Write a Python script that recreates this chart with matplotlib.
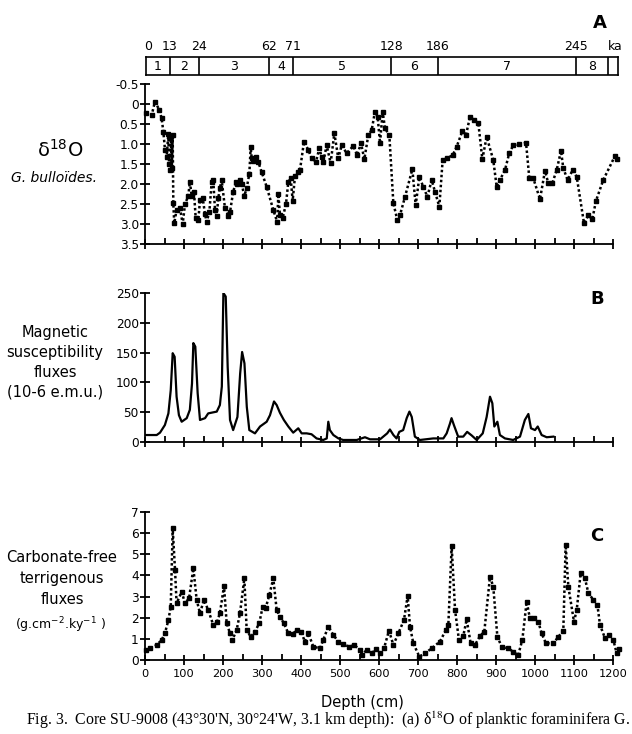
import matplotlib
matplotlib.use("Agg")
import matplotlib.pyplot as plt
from matplotlib.ticker import MultipleLocator, FixedLocator

# ---- data ----
# panel A: d18O G. bulloides (depth cm, per mil)
a_depth = [1.7, 17, 25.6, 36.8, 42.7, 47, 51.3, 55.6, 59.8, 61.7, 64, 66, 68.8, 71, 72.6, 75,
           81, 89.7, 96.6, 102.6, 111, 115, 119.7, 125.6, 130, 136.8, 141, 148, 153.8, 158,
           165, 171, 175, 179.5, 183.8, 188, 192, 196.6, 205, 213.7, 218, 226, 233, 236.7,
           243.6, 248, 254.7, 260.7, 267.5, 271, 273.5, 277.8, 284.6, 290.6, 299, 312, 329,
           339, 341.9, 346, 353, 361.5, 367.5, 373.5, 378.6, 384.6, 393, 397.4, 407.7, 418.8,
           427.4, 438.5, 447, 453, 457.3, 465.8, 476, 485.5, 495.7, 504.3, 517, 534, 544,
           553.8, 562.4, 572.6, 581.2, 589.7, 596.6, 602.6, 609.4, 615.4, 626.5, 636.8, 647,
           653.8, 666.7, 685.5, 694, 703.4, 713.7, 724, 735, 743.6, 754.7, 763.2, 773.5, 788.9,
           799, 813.7, 823, 833.3, 843.6, 854.7, 865, 876, 893, 901.7, 910, 923, 934, 944.4,
           960, 977, 985.5, 995.7, 1012.8, 1025.6, 1034, 1044.4, 1055.6, 1066.7, 1072.6,
           1083.8, 1096.6, 1107, 1125.6, 1136.7, 1147, 1156.4, 1175, 1205, 1211]
a_d18o = [0.23, 0.28, -0.06, 0.15, 0.36, 0.69, 1.15, 1.32, 0.75, 1.5, 1.65, 0.8, 1.6, 0.78,
          2.48, 2.98, 2.65, 2.6, 3.0, 2.5, 2.3, 1.94, 2.3, 2.2, 2.85, 2.9, 2.4, 2.35, 2.75,
          2.95, 2.7, 1.95, 1.9, 2.65, 2.8, 2.35, 2.1, 1.9, 2.6, 2.8, 2.7, 2.2, 1.95, 2.0, 1.9,
          2.0, 2.3, 2.1, 1.75, 1.07, 1.35, 1.42, 1.32, 1.45, 1.7, 2.07, 2.65, 2.95, 2.25, 2.77,
          2.85, 2.5, 1.95, 1.85, 2.42, 1.8, 1.7, 1.65, 0.94, 1.15, 1.36, 1.44, 1.11, 1.32,
          1.44, 1.03, 1.48, 0.73, 1.36, 1.03, 1.23, 1.05, 1.28, 0.98, 1.38, 0.78, 0.65, 0.19,
          0.32, 0.98, 0.19, 0.61, 0.78, 2.48, 2.9, 2.78, 2.32, 1.63, 2.53, 1.83, 2.07, 2.32,
          1.9, 2.19, 2.57, 1.4, 1.36, 1.28, 1.07, 0.68, 0.78, 0.32, 0.4, 0.48, 1.38, 0.82, 1.4,
          2.07, 1.9, 1.65, 1.23, 1.03, 1.0, 0.97, 1.86, 1.86, 2.38, 1.67, 1.98, 1.98, 1.65,
          1.17, 1.61, 1.9, 1.65, 1.82, 2.98, 2.78, 2.88, 2.42, 1.9, 1.3, 1.38]

# panel B: magnetic susceptibility fluxes
b_depth = [1.7, 30, 38.5, 51, 60, 66, 71, 76, 81, 87, 94, 107, 115, 120.5, 124, 129, 135, 141,
           154, 162, 184, 192, 197, 201, 207, 212, 218, 226, 237, 244, 249, 255, 261, 267.5,
           282, 295, 312, 320.5, 330.8, 337.6, 346, 356, 367.5, 380, 393, 401.7, 414.5, 427,
           440, 457, 466, 470, 474, 483, 496, 508, 543, 564, 577, 602.6, 621, 628, 637, 645,
           652, 662, 671, 678, 684, 692, 705, 739, 765, 773.5, 782, 786, 792, 803, 816, 826,
           837.6, 850.5, 866, 876, 884.6, 890.6, 895.7, 903.5, 910, 923, 944, 961.5, 974, 983,
           989.7, 1000, 1007, 1017, 1030, 1047]
b_flux = [11.7, 11.7, 15.7, 28.5, 48, 87, 149, 143, 76, 45, 34, 40, 54, 98, 166, 160, 82, 37,
          40, 48, 51, 62, 93, 250, 244, 126, 37, 20, 42, 115, 151, 132, 59, 20, 14.5, 26, 34,
          45, 68, 62, 49, 37, 26, 15.7, 23, 14.5, 14.5, 13, 6, 3.4, 6, 34, 20, 11.7, 6, 3.4,
          3.4, 8, 4.5, 4.5, 14.5, 21, 11.7, 6, 17, 20, 40, 51, 42, 9, 3.4, 6, 6, 14.5, 31, 40,
          28.5, 9, 9, 17, 11, 3.4, 14.5, 42, 76, 65, 26, 34, 11.7, 6, 3.4, 9, 37, 47, 23, 20,
          26, 11.7, 8, 9]

# panel C: carbonate-free terrigenous fluxes
c_depth = [1.7, 12.8, 30, 42.7, 51, 60, 66, 71, 77, 81, 94, 102.6, 113, 124, 132.5, 141, 151,
           162, 175, 185, 192, 202.6, 209.4, 218, 224, 235, 243.6, 254.7, 260.7, 271, 282, 293,
           301.7, 309, 318.8, 329, 337.6, 346, 356, 367.5, 378.6, 389, 400, 410, 418.8, 431.6,
           448.7, 457, 470, 483, 495.7, 508.5, 524, 537, 551, 555.6, 568.4, 581, 592, 602.6,
           612.8, 625.6, 636.8, 649.6, 664, 673.5, 679.5, 688, 703.4, 718, 735, 756, 771.8,
           777.8, 786.3, 795, 805, 816, 824.8, 835, 846, 859, 870, 884.6, 893, 903.5, 914.6,
           931.6, 944.4, 957, 967.5, 978.6, 987, 998, 1008.5, 1017, 1028, 1047, 1060, 1072.6,
           1078.6, 1085.5, 1100, 1107, 1117, 1128, 1136.7, 1149.6, 1160, 1166.7, 1179.5,
           1190.6, 1200.8, 1209.4, 1216]
c_flux = [0.47, 0.55, 0.71, 0.95, 1.26, 1.89, 2.52, 6.23, 4.26, 2.68, 3.23, 2.68, 2.92, 4.34,
          2.84, 2.21, 2.84, 2.37, 1.66, 1.81, 2.21, 3.5, 1.74, 1.26, 0.95, 1.42, 2.21, 3.86,
          1.42, 1.10, 1.34, 1.74, 2.52, 2.44, 3.07, 3.86, 2.37, 2.05, 1.74, 1.26, 1.23, 1.42,
          1.34, 0.87, 1.26, 0.63, 0.55, 0.95, 1.58, 1.18, 0.87, 0.74, 0.63, 0.71, 0.47, 0.24,
          0.47, 0.32, 0.5, 0.32, 0.55, 1.39, 0.71, 1.26, 1.89, 3.03, 1.58, 0.79, 0.16, 0.32,
          0.55, 0.87, 1.42, 1.66, 5.39, 2.37, 0.95, 1.13, 1.92, 0.79, 0.71, 1.13, 1.34, 3.94,
          3.47, 1.10, 0.63, 0.55, 0.39, 0.24, 0.95, 2.76, 1.97, 1.97, 1.81, 1.26, 0.79, 0.79,
          1.10, 1.39, 5.44, 3.47, 1.81, 2.37, 4.1, 3.86, 3.18, 2.84, 2.6, 1.66, 1.03, 1.18,
          0.95, 0.32, 0.5]

# isotope stages: boundary depths (cm) and ages (ka)
stage_bounds = [64, 138, 318, 379, 631, 751, 1105, 1187]
stage_ages = ["13", "24", "62", "71", "128", "186", "245"]
stage_names = ["1", "2", "3", "4", "5", "6", "7", "8"]

XMAX = 1215
W, H = 632, 734

plt.rcParams['font.family'] = ['DejaVu Sans']
fig = plt.figure(figsize=(W / 100, H / 100), dpi=100)


def box(x0, top, x1, bottom):
    return [x0 / W, 1 - bottom / H, (x1 - x0) / W, (bottom - top) / H]


def style_axes(ax, show_x_labels=False):
    for s in ['top', 'right']:
        ax.spines[s].set_visible(False)
    ax.spines['left'].set_linewidth(1.3)
    ax.spines['bottom'].set_linewidth(1.3)
    ax.spines['bottom'].set_bounds(0, 1200)
    ax.set_xlim(0, XMAX)
    ax.xaxis.set_major_locator(FixedLocator(range(0, 1201, 100)))
    ax.xaxis.set_minor_locator(FixedLocator(range(50, 1201, 100)))
    ax.tick_params(axis='x', which='major', direction='inout', length=7, width=1.3,
                   labelsize=8.2, labelbottom=show_x_labels, pad=3)
    ax.tick_params(axis='x', which='minor', direction='in', length=4, width=1.3)
    ax.tick_params(axis='y', direction='inout', length=7, width=1.3, labelsize=8.7, pad=1)


dotted = dict(color='black', linestyle=(0, (1, 1)), linewidth=1.8, marker='s',
              markersize=2.4, clip_on=False)

# ---- stage band ----
ax0 = fig.add_axes(box(146, 57, 618, 75))
ax0.set_xlim(2.6, 1213)
ax0.set_ylim(0, 1)
ax0.set_xticks([])
ax0.set_yticks([])
for s in ax0.spines.values():
    s.set_linewidth(1.2)
for b in stage_bounds:
    ax0.axvline(b, color='black', lw=1.2)
edges = [2.6] + stage_bounds
for i, name in enumerate(stage_names):
    ax0.text((edges[i] + edges[i + 1]) / 2, 0.45, name, ha='center', va='center', fontsize=9)
ax0.text(8, 1.2, "0", ha='center', va='bottom', fontsize=9)
for b, age in zip(stage_bounds, stage_ages):
    ax0.text(b, 1.2, age, ha='center', va='bottom', fontsize=9)
ax0.text(1206, 1.2, "ka", ha='center', va='bottom', fontsize=9)

# ---- panel A ----
axA = fig.add_axes(box(145, 84, 145 + XMAX * 0.39, 244))
axA.plot(a_depth, a_d18o, **dotted)
axA.set_ylim(3.5, -0.5)
axA.set_yticks([-0.5, 0, 0.5, 1.0, 1.5, 2.0, 2.5, 3.0, 3.5])
axA.set_yticklabels(["-0.5", "0", "0.5", "1.0", "1.5", "2.0", "2.5", "3.0", "3.5"])
style_axes(axA)

# ---- panel B ----
axB = fig.add_axes(box(145, 293, 145 + XMAX * 0.39, 442))
axB.plot(b_depth, b_flux, color='black', linewidth=1.6)
axB.set_ylim(0, 250)
axB.yaxis.set_major_locator(MultipleLocator(50))
style_axes(axB)

# ---- panel C ----
axC = fig.add_axes(box(145, 512, 145 + XMAX * 0.39, 660))
axC.plot(c_depth, c_flux, **dotted)
axC.set_ylim(0, 7)
axC.yaxis.set_major_locator(MultipleLocator(1))
style_axes(axC, show_x_labels=True)

# ---- texts ----
fig.text(600 / W, 1 - 23 / H, "A", fontsize=13, fontweight='bold', ha='center', va='center')
fig.text(597 / W, 1 - 299 / H, "B", fontsize=13, fontweight='bold', ha='center', va='center')
fig.text(597 / W, 1 - 536 / H, "C", fontsize=13, fontweight='bold', ha='center', va='center')

fig.text(60 / W, 1 - 150 / H, "δ$^{18}$O", fontsize=14, ha='center', va='center',
         math_fontfamily='dejavusans')
fig.text(54 / W, 1 - 178 / H, "G. bulloïdes.", fontsize=10, style='italic',
         ha='center', va='center')

for i, line in enumerate(["Magnetic", "susceptibility", "fluxes", "(10-6 e.m.u.)"]):
    fig.text(55 / W, 1 - (332 + 20 * i) / H, line, fontsize=10.5, ha='center', va='center')

for i, line in enumerate(["Carbonate-free", "terrigenous", "fluxes"]):
    fig.text(62 / W, 1 - (558 + 21 * i) / H, line, fontsize=10.5, ha='center', va='center')
fig.text(60 / W, 1 - 625 / H, r"(g.cm$^{-2}$.ky$^{-1}$ )", fontsize=9, ha='center',
         va='center', math_fontfamily='dejavusans')

fig.text(362 / W, 1 - 703 / H, "Depth (cm)", fontsize=10.5, ha='center', va='center')
fig.text(26 / W, 1 - 720 / H,
         "Fig. 3.  Core SU-9008 (43°30'N, 30°24'W, 3.1 km depth):  (a) δ$^{18}$O of planktic foraminifera G.",
         fontsize=11.4, family='Liberation Serif', math_fontfamily='stix',
         ha='left', va='center')

fig.savefig("out.png", dpi=100)
